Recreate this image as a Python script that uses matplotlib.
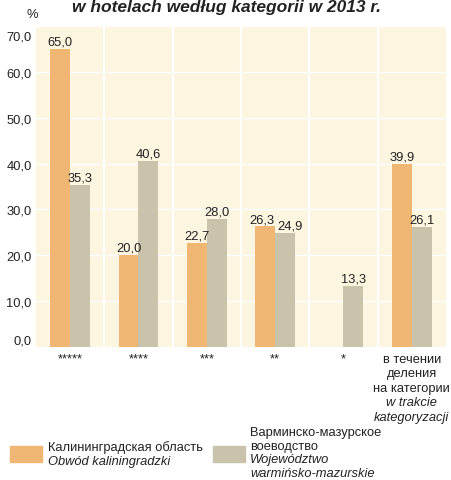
import numpy as np
import matplotlib
matplotlib.use("Agg")
import matplotlib.pyplot as plt
from matplotlib.patches import Rectangle
from matplotlib.transforms import ScaledTranslation

plt.rcParams['font.family'] = ['Liberation Sans', 'DejaVu Sans']

categories = ["*****", "****", "***", "**", "*", "last"]
kaliningrad = [65.0, 20.0, 22.7, 26.3, np.nan, 39.9]
warmia = [35.3, 40.6, 28.0, 24.9, 13.3, 26.1]
yticks = [0, 10, 20, 30, 40, 50, 60, 70]

c_or = "#F0B673"
c_gr = "#C9C3AB"
c_bg = "#FCF5E0"
c_txt = "#222222"
fs = 9.3

W, H = 452, 481
fig = plt.figure(figsize=(W / 100, H / 100), dpi=100)
ax = fig.add_axes([36 / W, 1 - 348 / H, 410 / W, 321 / H])
ax.set_facecolor(c_bg)
for s in ax.spines.values():
    s.set_visible(False)

x = np.arange(len(categories))
bw = 0.29
ax.bar(x - bw / 2, kaliningrad, bw, color=c_or, zorder=3)
ax.bar(x + bw / 2, warmia, bw, color=c_gr, zorder=3)

def fmt(v):
    return f"{v:.1f}".replace(".", ",")

# horizontal nudges (pixels) for labels that would collide
nudge_k = {3: -3}
nudge_w = {3: 5}

for i, (xi, v) in enumerate(zip(x, kaliningrad)):
    if not np.isnan(v):
        ax.annotate(fmt(v), (xi - bw / 2, v), xytext=(nudge_k.get(i, 0) * 0.72, 1),
                    textcoords="offset points", ha="center", va="bottom",
                    fontsize=fs, color=c_txt, zorder=4)
for i, (xi, v) in enumerate(zip(x, warmia)):
    ax.annotate(fmt(v), (xi + bw / 2, v), xytext=(nudge_w.get(i, 0) * 0.72, 1),
                textcoords="offset points", ha="center", va="bottom",
                fontsize=fs, color=c_txt, zorder=4)

ax.set_xlim(-0.5, len(categories) - 0.5)
ax.set_ylim(0, 70)
ax.set_yticks(yticks)
ylabels = ax.set_yticklabels([fmt(v) for v in yticks], fontsize=fs, color=c_txt)
ax.tick_params(axis="y", length=0, pad=3)
ax.tick_params(axis="x", length=0, pad=4)
ylabels[0].set_va("bottom")
ylabels[-1].set_va("top")
ylabels[-1].set_transform(ylabels[-1].get_transform() + ScaledTranslation(0, -5 / 100, fig.dpi_scale_trans))

for yv in yticks[1:]:
    ax.axhline(yv, color="white", lw=1.0, zorder=1)
for xb in np.arange(0.5, len(categories) - 0.5, 1):
    ax.axvline(xb, color="white", lw=1.5, zorder=1)

ax.set_xticks(x[:-1])
ax.set_xticklabels(categories[:-1], fontsize=fs, color=c_txt)

# multi-line last category label
trans = ax.get_xaxis_transform()
last_lines = [("в течении", "normal"), ("деления", "normal"), ("на категории", "normal"),
              ("w trakcie", "italic"), ("kategoryzacji", "italic")]
y0 = -12 / 321
for i, (t, st) in enumerate(last_lines):
    ax.text(x[-1], y0 - i * 14.5 / 321, t, transform=trans, ha="center", va="center",
            fontsize=fs, style=st, color=c_txt)

fig.text(32 / W, 1 - 15 / H, "%", fontsize=fs, color=c_txt, ha="center", va="center")
fig.text(227 / W, 1 - 12 / H, "w hotelach według kategorii w 2013 r.", fontsize=12.5,
         weight="bold", style="italic", ha="center", va="baseline", color=c_txt)

# legend
fig.patches.append(Rectangle((10 / W, 1 - 463 / H), 32 / W, 16 / H, transform=fig.transFigure,
                             color=c_or, figure=fig))
fig.patches.append(Rectangle((213 / W, 1 - 463 / H), 32 / W, 16 / H, transform=fig.transFigure,
                             color=c_gr, figure=fig))
fig.text(48 / W, 1 - 448 / H, "Калининградская область", fontsize=fs, va="center", color=c_txt)
fig.text(48 / W, 1 - 462 / H, "Obwód kaliningradzki", fontsize=fs, style="italic", va="center", color=c_txt)
leg2 = [("Варминско-мазурское", "normal"), ("воеводство", "normal"),
        ("Województwo", "italic"), ("warmińsko-mazurskie", "italic")]
for i, (t, st) in enumerate(leg2):
    fig.text(250 / W, 1 - (433.5 + i * 13.5) / H, t, fontsize=fs, style=st, va="center", color=c_txt)

fig.savefig("out.png", dpi=100, facecolor="white")
